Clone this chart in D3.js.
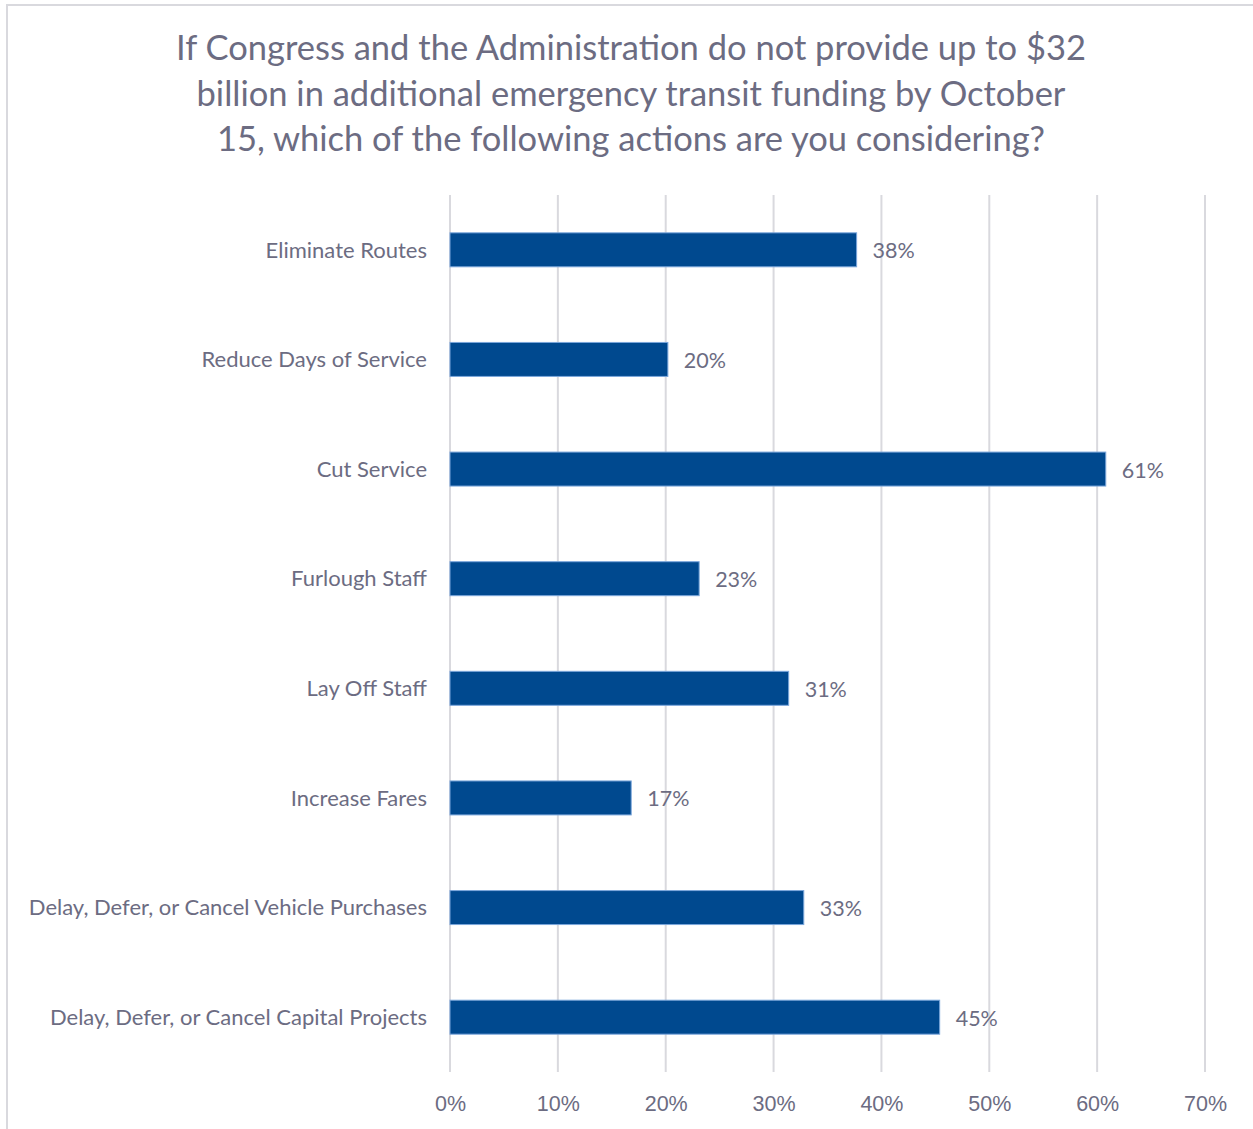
<!DOCTYPE html>
<html>
<head>
    <meta charset="utf-8">
    <title>Emergency transit funding actions</title>
    <style>
        body { margin: 0; background: #fff; font-family: Lato, "Open Sans", sans-serif; }
        .frame { fill: none; stroke: #d9d9de; stroke-width: 2px; }
        .title { fill: #6c6c82; font-size: 34.5px; }
        .grid line { stroke: #d9d9de; stroke-width: 2px; }
        .cat { fill: #6c6c82; font-size: 22px; }
        .tick text { fill: #6c6c82; font-size: 21.5px; }
        .bar { fill: #00498f; stroke: #7aa6db; stroke-width: 1px; }
        .val { fill: #6c6c82; font-size: 21.5px; }
    </style>
    <script src="https://d3js.org/d3.v7.min.js"></script>
</head>
<body>
<svg id="chart"></svg>

<script>
    //data
    var titleLines = [
        "If Congress and the Administration do not provide up to $32",
        "billion in additional emergency transit funding by October",
        "15, which of the following actions are you considering?"
    ];
    var categories = [
        "Eliminate Routes",
        "Reduce Days of Service",
        "Cut Service",
        "Furlough Staff",
        "Lay Off Staff",
        "Increase Fares",
        "Delay, Defer, or Cancel Vehicle Purchases",
        "Delay, Defer, or Cancel Capital Projects"
    ];
    var shares = [0.377, 0.202, 0.608, 0.231, 0.314, 0.168, 0.328, 0.454];
    var xTicks = [0, 0.1, 0.2, 0.3, 0.4, 0.5, 0.6, 0.7];

    var width = 1253, height = 1129,
        margin = {top: 195, right: 48, bottom: 57, left: 450};

    var svg = d3.select("#chart").attr("width", width).attr("height", height);

    //outer frame (right and bottom edges fall outside the picture)
    svg.append("rect").attr("class", "frame")
        .attr("x", 7).attr("y", 5).attr("width", width + 20).attr("height", height + 20);

    //title
    svg.append("text").attr("class", "title")
        .attr("text-anchor", "middle")
        .selectAll("tspan").data(titleLines).enter()
        .append("tspan")
        .attr("x", 631)
        .attr("y", function(d, i) { return 60 + i * 45.5; })
        .text(function(d) { return d; });

    var x = d3.scaleLinear().domain([0, 0.7]).range([margin.left, width - margin.right]);
    var y = d3.scaleBand().domain(categories)
        .range([margin.top, height - margin.bottom])
        .paddingInner(0.69).paddingOuter(0.345);

    //vertical gridlines
    svg.append("g").attr("class", "grid").selectAll("line").data(xTicks).enter()
        .append("line")
        .attr("x1", function(d) { return x(d); }).attr("x2", function(d) { return x(d); })
        .attr("y1", margin.top).attr("y2", height - margin.bottom);

    //x axis labels
    var xAxis = d3.axisBottom(x).tickValues(xTicks).tickSize(0).tickPadding(24)
        .tickFormat(d3.format(".0%"));
    var gx = svg.append("g").attr("transform", "translate(0," + (height - margin.bottom) + ")").call(xAxis);
    gx.select(".domain").remove();
    gx.selectAll("text").attr("font-family", null).attr("font-size", null);

    //category labels
    svg.append("g").selectAll("text").data(categories).enter()
        .append("text").attr("class", "cat")
        .attr("x", margin.left - 23)
        .attr("y", function(d) { return y(d) + y.bandwidth() / 2; })
        .attr("dy", "0.35em")
        .attr("text-anchor", "end")
        .text(function(d) { return d; });

    //bars
    svg.append("g").selectAll("rect").data(shares).enter()
        .append("rect").attr("class", "bar")
        .attr("x", x(0))
        .attr("y", function(d, i) { return y(categories[i]); })
        .attr("width", function(d) { return x(d) - x(0); })
        .attr("height", y.bandwidth());

    //value labels
    svg.append("g").selectAll("text").data(shares).enter()
        .append("text").attr("class", "val")
        .attr("x", function(d) { return x(d) + 16; })
        .attr("y", function(d, i) { return y(categories[i]) + y.bandwidth() / 2 + 1; })
        .attr("dy", "0.35em")
        .text(function(d) { return d3.format(".0%")(d); });
</script>
</body>
</html>
